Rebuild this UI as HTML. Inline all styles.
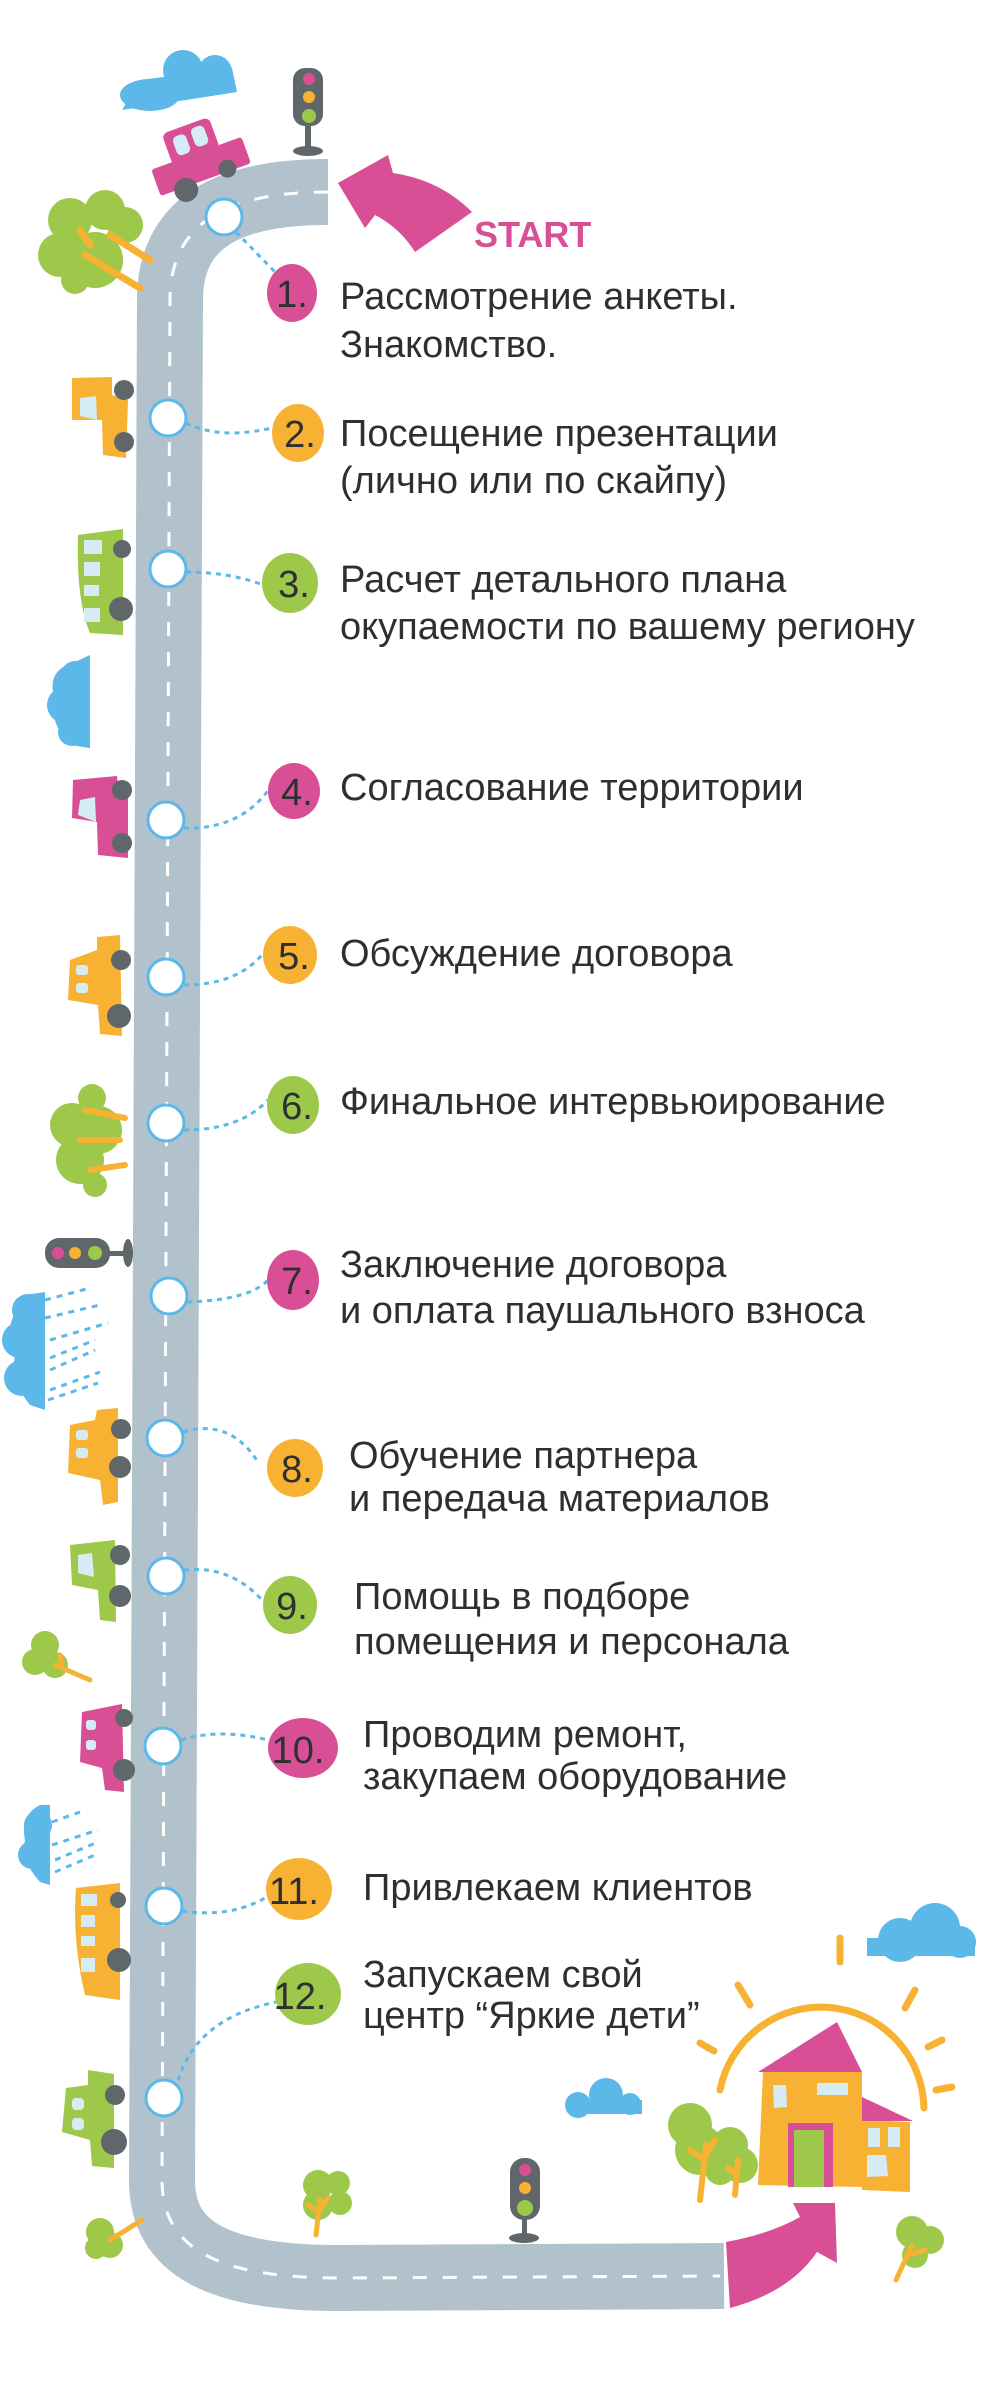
<!DOCTYPE html>
<html><head><meta charset="utf-8"><style>
html,body{margin:0;padding:0;background:#fff;}
svg{display:block;}
text{font-family:"Liberation Sans",sans-serif;}
</style></head><body>
<svg width="1000" height="2408" viewBox="0 0 1000 2408" xmlns="http://www.w3.org/2000/svg">
<!-- ROAD -->
<path d="M328,192 C240,192 170,215 170,300 L162,2180 C162,2250 220,2278 340,2278 L724,2276" fill="none" stroke="#b1c2cc" stroke-width="66"/>
<path d="M328,192 C240,192 170,215 170,300 L162,2180 C162,2250 220,2278 340,2278 L720,2276" fill="none" stroke="#fff" stroke-width="3" stroke-dasharray="14 16"/>

<!-- top arrow + START -->
<path d="M338,183 L388,155 L393,173 Q440,180 472,212 L415,252 Q400,228 375,215 L365,228 Z" fill="#d94f96"/>
<text x="474" y="247" font-size="36" fill="#d94f96" font-weight="bold">START</text>

<!-- bottom arrow -->
<path d="M726,2242 Q770,2234 800,2217 L793,2203 L835,2203 L837,2263 L817,2252 Q790,2292 730,2308 Z" fill="#d94f96"/>

<!-- top cloud -->
<g fill="#5bb8e8"><ellipse cx="150" cy="95" rx="30" ry="16"/><circle cx="183" cy="70" r="20"/><circle cx="215" cy="72" r="17"/><path d="M122,110 L237,92 L232,68 L140,80 Z"/></g>
<!-- top traffic light -->
<rect x="293" y="68" width="30" height="58" rx="12" fill="#5f676b"/>
<circle cx="309" cy="79" r="6" fill="#d94f96"/><circle cx="309" cy="97" r="6" fill="#f7b233"/><circle cx="309" cy="116" r="7" fill="#9dc84a"/>
<rect x="305" y="124" width="6" height="24" fill="#5f676b"/><ellipse cx="308" cy="151" rx="15" ry="5" fill="#5f676b"/>
<!-- top pink car -->
<g transform="translate(198,158) rotate(-20)">
<rect x="-48" y="-5" width="96" height="28" rx="3" fill="#d94f96"/>
<rect x="-26" y="-35" width="50" height="34" rx="6" fill="#d94f96"/>
<rect x="-18" y="-28" width="14" height="20" rx="5" fill="#d6ecf5"/><rect x="2" y="-30" width="14" height="20" rx="5" fill="#d6ecf5"/>
<circle cx="-22" cy="26" r="12" fill="#5f676b"/><circle cx="24" cy="20" r="9" fill="#5f676b"/>
</g>
<!-- top-left tree -->
<g fill="#9dc84a"><circle cx="70" cy="220" r="22"/><circle cx="105" cy="210" r="20"/><circle cx="125" cy="225" r="18"/><circle cx="60" cy="255" r="22"/><circle cx="95" cy="260" r="28"/><circle cx="75" cy="280" r="14"/></g>
<path d="M85,255 L140,288 M110,235 L150,260 M90,245 L80,230" stroke="#f7b233" stroke-width="7" fill="none" stroke-linecap="round"/>

<!-- orange car 2 -->
<path d="M72,378 L112,377 L112,395 L128,400 L126,458 L103,455 L102,420 L72,420 Z" fill="#f7b233"/>
<path d="M80,398 L96,396 L97,420 L80,416 Z" fill="#d6ecf5"/>
<circle cx="124" cy="390" r="10" fill="#5f676b"/><circle cx="124" cy="442" r="10" fill="#5f676b"/>
<!-- green bus 3 -->
<path d="M78,535 L123,529 L123,635 L90,633 Q76,600 78,535Z" fill="#9dc84a"/>
<g fill="#d6ecf5"><rect x="84" y="540" width="18" height="14"/><rect x="84" y="562" width="16" height="14"/><rect x="84" y="585" width="15" height="11"/><rect x="84" y="608" width="16" height="14"/></g>
<circle cx="122" cy="549" r="9" fill="#5f676b"/><circle cx="121" cy="609" r="12" fill="#5f676b"/>
<!-- cloud side -->
<g fill="#5bb8e8"><path d="M90,655 L90,748 L70,745 Q48,720 55,700 Q45,670 75,662 Z"/><circle cx="75" cy="675" r="14"/><circle cx="65" cy="705" r="18"/><circle cx="72" cy="732" r="14"/></g>
<!-- pink car 4 -->
<path d="M73,780 L117,776 L118,790 L128,795 L128,858 L98,855 L97,822 L72,818 Z" fill="#d94f96"/>
<path d="M80,800 L95,797 L96,822 L78,815 Z" fill="#d6ecf5"/>
<circle cx="122" cy="790" r="10" fill="#5f676b"/><circle cx="122" cy="843" r="10" fill="#5f676b"/>
<!-- orange car 5 -->
<path d="M70,960 L97,950 L97,937 L120,935 L122,1036 L100,1034 L98,1005 L68,1000 Z" fill="#f7b233"/>
<g fill="#d6ecf5"><rect x="76" y="965" width="12" height="10" rx="3"/><rect x="76" y="983" width="12" height="10" rx="3"/></g>
<circle cx="121" cy="960" r="10" fill="#5f676b"/><circle cx="119" cy="1016" r="12" fill="#5f676b"/>
<!-- tree 6 -->
<g fill="#9dc84a"><circle cx="92" cy="1098" r="14"/><circle cx="72" cy="1125" r="22"/><circle cx="98" cy="1130" r="24"/><circle cx="80" cy="1160" r="24"/><circle cx="95" cy="1185" r="12"/></g>
<path d="M85,1110 L125,1118 M80,1140 L120,1140 M90,1170 L125,1165" stroke="#f7b233" stroke-width="6" stroke-linecap="round"/>
<!-- sideways traffic light -->
<rect x="45" y="1238" width="65" height="30" rx="14" fill="#5f676b"/>
<circle cx="58" cy="1253" r="6" fill="#d94f96"/><circle cx="75" cy="1253" r="6" fill="#f7b233"/><circle cx="95" cy="1253" r="7" fill="#9dc84a"/>
<rect x="108" y="1251" width="18" height="5" fill="#5f676b"/><ellipse cx="128" cy="1253" rx="5" ry="14" fill="#5f676b"/>
<!-- rain cloud 1 -->
<g fill="#5bb8e8"><path d="M45,1292 L45,1410 L30,1405 Q10,1380 15,1355 Q0,1330 25,1295 Z"/><circle cx="28" cy="1310" r="16"/><circle cx="20" cy="1340" r="18"/><circle cx="22" cy="1378" r="18"/></g>
<g stroke="#5bb8e8" stroke-width="3" stroke-dasharray="6 6"><line x1="45" y1="1300" x2="90" y2="1288"/><line x1="45" y1="1318" x2="100" y2="1305"/><line x1="50" y1="1340" x2="108" y2="1323"/><line x1="50" y1="1358" x2="95" y2="1340"/><line x1="50" y1="1370" x2="95" y2="1350"/><line x1="50" y1="1390" x2="100" y2="1372"/><line x1="48" y1="1400" x2="98" y2="1383"/></g>
<!-- orange car 8 -->
<path d="M70,1425 L95,1420 L97,1410 L118,1408 L118,1502 L103,1505 L100,1480 L68,1473 Z" fill="#f7b233"/>
<g fill="#d6ecf5"><rect x="76" y="1430" width="12" height="10" rx="3"/><rect x="76" y="1448" width="12" height="10" rx="3"/></g>
<circle cx="121" cy="1429" r="10" fill="#5f676b"/><circle cx="120" cy="1467" r="11" fill="#5f676b"/>
<!-- green car 9 -->
<path d="M70,1545 L115,1540 L116,1622 L100,1620 L98,1590 L72,1585 Z" fill="#9dc84a"/>
<path d="M78,1555 L92,1553 L94,1577 L78,1573 Z" fill="#d6ecf5"/>
<circle cx="120" cy="1555" r="10" fill="#5f676b"/><circle cx="120" cy="1596" r="11" fill="#5f676b"/>
<!-- small tree -->
<g fill="#9dc84a"><circle cx="45" cy="1645" r="14"/><circle cx="35" cy="1662" r="13"/><circle cx="55" cy="1665" r="13"/></g>
<path d="M55,1665 L90,1680 M62,1668 L60,1655" stroke="#f7b233" stroke-width="5" stroke-linecap="round"/>
<!-- pink car 10 -->
<path d="M82,1712 L122,1704 L124,1792 L105,1790 L102,1768 L80,1762 Z" fill="#d94f96"/>
<g fill="#d6ecf5"><rect x="86" y="1720" width="10" height="10" rx="3"/><rect x="86" y="1740" width="10" height="10" rx="3"/></g>
<circle cx="124" cy="1718" r="9" fill="#5f676b"/><circle cx="124" cy="1770" r="11" fill="#5f676b"/>
<!-- rain cloud 2 -->
<g fill="#5bb8e8"><path d="M50,1805 L50,1885 L40,1882 Q20,1860 25,1840 Q20,1815 40,1805 Z"/><circle cx="38" cy="1825" r="14"/><circle cx="32" cy="1855" r="14"/></g>
<g stroke="#5bb8e8" stroke-width="3" stroke-dasharray="6 6"><line x1="52" y1="1822" x2="80" y2="1812"/><line x1="52" y1="1845" x2="98" y2="1830"/><line x1="55" y1="1860" x2="98" y2="1842"/><line x1="55" y1="1872" x2="95" y2="1855"/></g>
<!-- bus 11 -->
<path d="M76,1888 L120,1883 L120,2000 L85,1995 Q72,1940 76,1888 Z" fill="#f7b233"/>
<g fill="#d6ecf5"><rect x="81" y="1894" width="16" height="12"/><rect x="81" y="1915" width="14" height="12"/><rect x="81" y="1936" width="14" height="10"/><rect x="81" y="1958" width="14" height="14"/></g>
<circle cx="118" cy="1900" r="8" fill="#5f676b"/><circle cx="119" cy="1960" r="12" fill="#5f676b"/>
<!-- green car 12 -->
<path d="M88,2070 L114,2074 L114,2168 L92,2166 L90,2140 L62,2132 L66,2088 L88,2085 Z" fill="#9dc84a"/>
<g fill="#d6ecf5"><rect x="72" y="2098" width="12" height="12" rx="4"/><rect x="72" y="2118" width="12" height="12" rx="4"/></g>
<circle cx="115" cy="2095" r="10" fill="#5f676b"/><circle cx="114" cy="2142" r="13" fill="#5f676b"/>
<!-- bottom left small tree -->
<g fill="#9dc84a"><circle cx="100" cy="2232" r="14"/><circle cx="110" cy="2245" r="13"/><circle cx="96" cy="2248" r="11"/></g>
<path d="M110,2240 L142,2220" stroke="#f7b233" stroke-width="5" stroke-linecap="round"/>
<!-- mid bottom tree -->
<g fill="#9dc84a"><circle cx="318" cy="2185" r="15"/><circle cx="338" cy="2183" r="12"/><circle cx="340" cy="2203" r="12"/><circle cx="318" cy="2205" r="15"/></g>
<path d="M316,2235 L320,2200 M320,2210 L328,2198 M319,2212 L308,2205" stroke="#f7b233" stroke-width="5" stroke-linecap="round"/>
<!-- bottom traffic light -->
<rect x="510" y="2158" width="30" height="62" rx="14" fill="#5f676b"/>
<circle cx="525" cy="2170" r="6" fill="#d94f96"/><circle cx="525" cy="2188" r="6" fill="#f7b233"/><circle cx="525" cy="2208" r="8" fill="#9dc84a"/>
<rect x="522" y="2218" width="5" height="18" fill="#5f676b"/><ellipse cx="524" cy="2238" rx="15" ry="5" fill="#5f676b"/>
<!-- small cloud -->
<g fill="#5bb8e8"><circle cx="578" cy="2105" r="13"/><circle cx="606" cy="2095" r="17"/><circle cx="630" cy="2104" r="11"/><rect x="570" y="2100" width="72" height="14"/></g>
<!-- right cloud -->
<g fill="#5bb8e8"><circle cx="900" cy="1940" r="22"/><circle cx="935" cy="1928" r="25"/><circle cx="960" cy="1942" r="16"/><rect x="867" y="1938" width="108" height="18"/></g>
<!-- sun -->
<path d="M720,2090 A103,103 0 0 1 924,2108" fill="none" stroke="#f7b233" stroke-width="7" stroke-linecap="round"/>
<g stroke="#f7b233" stroke-width="7" stroke-linecap="round"><line x1="840" y1="1938" x2="840" y2="1962"/><line x1="738" y1="1985" x2="750" y2="2005"/><line x1="915" y1="1990" x2="905" y2="2008"/><line x1="928" y1="2047" x2="942" y2="2040"/><line x1="936" y1="2090" x2="952" y2="2087"/><line x1="700" y1="2043" x2="714" y2="2051"/></g>
<!-- trees near house -->
<g fill="#9dc84a"><circle cx="690" cy="2125" r="22"/><circle cx="700" cy="2150" r="25"/><circle cx="730" cy="2145" r="18"/><circle cx="740" cy="2165" r="18"/><circle cx="720" cy="2170" r="15"/></g>
<path d="M700,2200 L706,2145 M705,2160 L690,2150 M706,2155 L715,2140 M735,2195 L738,2160 M737,2175 L728,2168" stroke="#f7b233" stroke-width="6" stroke-linecap="round"/>
<!-- house -->
<path d="M758,2072 L837,2022 L862,2072 Z" fill="#d94f96"/>
<path d="M763,2072 L862,2072 L862,2187 L758,2185 Z" fill="#f7b233"/>
<path d="M862,2120 L910,2122 L910,2192 L862,2190 Z" fill="#f7b233"/>
<path d="M862,2097 L913,2121 L862,2121 Z" fill="#d94f96"/>
<g fill="#d6ecf5"><path d="M773,2085 L786,2085 L787,2107 L774,2108 Z"/><rect x="817" y="2083" width="31" height="12"/><rect x="868" y="2128" width="12" height="19"/><rect x="888" y="2127" width="12" height="20"/><path d="M867,2155 L886,2155 L888,2176 L867,2177 Z"/></g>
<rect x="788" y="2123" width="45" height="64" fill="#d94f96"/><rect x="794" y="2130" width="30" height="57" fill="#9dc84a"/>
<!-- right tree -->
<g fill="#9dc84a"><circle cx="912" cy="2232" r="16"/><circle cx="930" cy="2240" r="14"/><circle cx="915" cy="2255" r="13"/></g>
<path d="M896,2280 L912,2245 M908,2255 L925,2250" stroke="#f7b233" stroke-width="5" stroke-linecap="round"/>

<!-- CONNECTORS -->
<g fill="none" stroke="#5bb8e8" stroke-width="3" stroke-dasharray="5 5">
<path d="M236,232 L275,272"/>
<path d="M186,423 Q220,440 272,428"/>
<path d="M186,572 Q230,572 266,586"/>
<path d="M184,828 Q240,830 270,788"/>
<path d="M184,985 Q240,985 266,950"/>
<path d="M184,1130 Q240,1130 268,1100"/>
<path d="M187,1302 Q250,1300 268,1280"/>
<path d="M183,1432 Q230,1418 258,1462"/>
<path d="M184,1570 Q230,1565 262,1600"/>
<path d="M181,1740 Q220,1728 268,1740"/>
<path d="M182,1911 Q230,1918 265,1898"/>
<path d="M176,2090 Q190,2020 276,2002"/>
</g>
<!-- DOTS -->
<g fill="#fff" stroke="#5bb8e8" stroke-width="3">
<circle cx="224" cy="217" r="18"/><circle cx="168" cy="418" r="18"/><circle cx="168" cy="569" r="18"/><circle cx="166" cy="820" r="18"/><circle cx="166" cy="977" r="18"/><circle cx="166" cy="1123" r="18"/><circle cx="169" cy="1296" r="18"/><circle cx="165" cy="1438" r="18"/><circle cx="166" cy="1576" r="18"/><circle cx="163" cy="1746" r="18"/><circle cx="164" cy="1906" r="18"/><circle cx="164" cy="2098" r="18"/>
</g>
<!-- BADGES -->
<ellipse cx="292" cy="293" rx="25" ry="29" fill="#d94f96"/>
<ellipse cx="298" cy="433" rx="26" ry="29" fill="#f7b233"/>
<ellipse cx="290" cy="583" rx="28" ry="30" fill="#9dc84a"/>
<ellipse cx="294" cy="791" rx="26" ry="28" fill="#d94f96"/>
<ellipse cx="290" cy="955" rx="27" ry="29" fill="#f7b233"/>
<ellipse cx="293" cy="1105" rx="26" ry="29" fill="#9dc84a"/>
<ellipse cx="293" cy="1280" rx="26" ry="30" fill="#d94f96"/>
<ellipse cx="295" cy="1468" rx="28" ry="29" fill="#f7b233"/>
<ellipse cx="290" cy="1605" rx="27" ry="29" fill="#9dc84a"/>
<ellipse cx="303" cy="1748" rx="35" ry="30" fill="#d94f96"/>
<ellipse cx="299" cy="1889" rx="33" ry="31" fill="#f7b233"/>
<ellipse cx="308" cy="1994" rx="33" ry="31" fill="#9dc84a"/>
<g fill="#2d2f30" font-size="38">
<text x="292" y="307" text-anchor="middle">1.</text>
<text x="300" y="447" text-anchor="middle">2.</text>
<text x="294" y="597" text-anchor="middle">3.</text>
<text x="297" y="805" text-anchor="middle">4.</text>
<text x="294" y="969" text-anchor="middle">5.</text>
<text x="297" y="1119" text-anchor="middle">6.</text>
<text x="297" y="1294" text-anchor="middle">7.</text>
<text x="297" y="1482" text-anchor="middle">8.</text>
<text x="292" y="1619" text-anchor="middle">9.</text>
<text x="298" y="1763" text-anchor="middle">10.</text>
<text x="294" y="1904" text-anchor="middle">11.</text>
<text x="300" y="2009" text-anchor="middle">12.</text>
</g>
<!-- TEXT -->
<g fill="#2d2f30" font-size="38">
<text x="340" y="309">Рассмотрение анкеты.</text>
<text x="340" y="357">Знакомство.</text>
<text x="340" y="446">Посещение презентации</text>
<text x="340" y="493">(лично или по скайпу)</text>
<text x="340" y="592">Расчет детального плана</text>
<text x="340" y="639">окупаемости по вашему региону</text>
<text x="340" y="800">Согласование территории</text>
<text x="340" y="966">Обсуждение договора</text>
<text x="340" y="1114">Финальное интервьюирование</text>
<text x="340" y="1277">Заключение договора</text>
<text x="340" y="1323">и оплата паушального взноса</text>
<text x="349" y="1468">Обучение партнера</text>
<text x="349" y="1511">и передача материалов</text>
<text x="354" y="1609">Помощь в подборе</text>
<text x="354" y="1654">помещения и персонала</text>
<text x="363" y="1747">Проводим ремонт,</text>
<text x="363" y="1789">закупаем оборудование</text>
<text x="363" y="1900">Привлекаем клиентов</text>
<text x="363" y="1987">Запускаем свой</text>
<text x="363" y="2028">центр “Яркие дети”</text>
</g>
</svg>
</body></html>
